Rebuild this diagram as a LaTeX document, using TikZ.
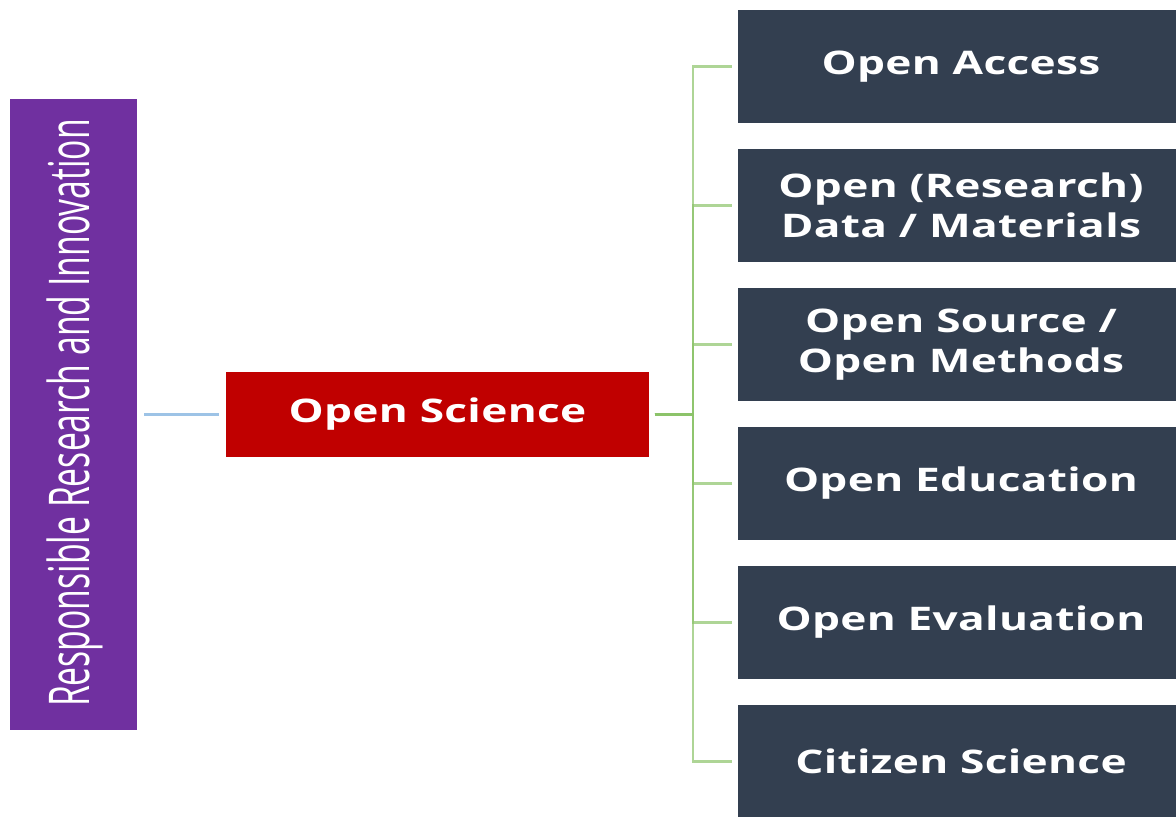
\documentclass[tikz,border=0pt]{standalone}
\usepackage{fontspec}
\setmainfont{Open Sans}
\newfontfamily\widefont[FakeStretch=1.36, LetterSpace=1]{Open Sans}
\usetikzlibrary{positioning}
\definecolor{rriPurple}{HTML}{7030A0}
\definecolor{osRed}{HTML}{C00000}
\definecolor{pillarBlue}{HTML}{333F50}
\definecolor{linkBlue}{HTML}{9DC3E6}
\definecolor{linkGreen}{HTML}{8CC36A}
\tikzset{
	pillar/.style	= {fill=pillarBlue, text=white, inner sep=0pt, align=center,
						minimum width=8.92cm, minimum height=2.26cm,
						font=\fontsize{18.5}{22.8}\selectfont\widefont\bfseries},
	branch/.style	= {draw=linkGreen, line width=1.2pt, opacity=0.7}
}
\begin{document}
\begin{tikzpicture}[x=0.02cm, y=-0.02cm]
				% Cadre
				\useasboundingbox	(0,0)	rectangle	(1176,816)	;
				\clip				(0,0)	rectangle	(1176,816)	;
				% RRI
				\node [fill=rriPurple, text=white, inner sep=0pt, minimum width=2.54cm, minimum height=12.62cm]
					(rri)	at (73.5, 414.5)	{};
				\node [rotate=90, text=white, inner sep=0pt]
					(rriText)	at (75, 413)
					{\scalebox{0.6}[1]{\fontsize{32}{32}\selectfont Responsible Research and Innovation}};
				% Open Science
				\node [fill=osRed, text=white, inner sep=0pt, minimum width=8.46cm, minimum height=1.7cm,
						font=\fontsize{18.5}{22.8}\selectfont\widefont\bfseries]
					(os)	at (437.5, 414.5)	{Open Science};
				% Piliers
				\node [pillar]	(access)	at (961, 66.5)	{Open Access};
				\node [pillar]	(data)		at (961, 205.5)	{Open (Research)\\Data / Materials};
				\node [pillar]	(source)	at (961, 344.5)	{Open Source /\\Open Methods};
				\node [pillar]	(edu)		at (961, 483.5)	{Open Education};
				\node [pillar]	(eval)		at (961, 622.5)	{Open Evaluation};
				\node [pillar]	(citizen)	at (961, 761.5)	{Citizen Science};
				% Liens
				\draw [draw=linkBlue, line width=1.2pt, shorten <=4, shorten >=4]	(rri) -- (os);
				\foreach \p in {access, data, source, edu, eval, citizen}
					\draw [branch, shorten <=3, shorten >=3]	(os.east) -- ++(44,0) |- (\p.west);
			\end{tikzpicture}
\end{document}
